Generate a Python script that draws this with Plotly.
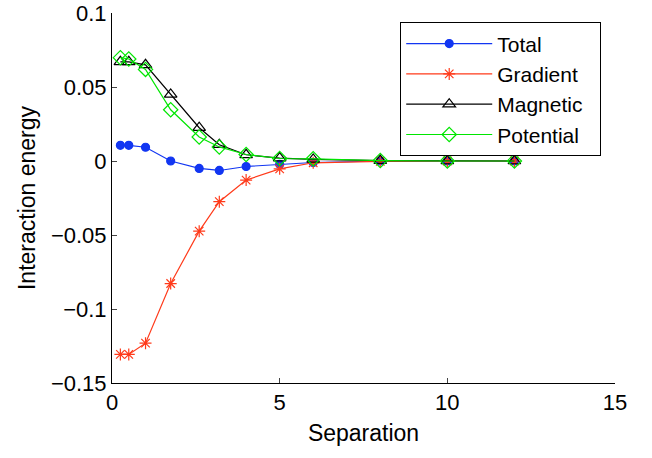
import plotly.graph_objects as go

separation = [0.25, 0.5, 1.0, 1.75, 2.6, 3.2, 4.0, 5.0, 6.0, 8.0, 10.0, 12.0]
total     = [0.0106, 0.0106, 0.0093, 0.0000, -0.0050, -0.0064, -0.0037, -0.0022, -0.0010, 0.0000, 0.0, 0.0]
gradient  = [-0.1307, -0.1307, -0.1231, -0.0828, -0.0474, -0.0275, -0.0129, -0.0053, -0.0012, -0.0002, 0.0, 0.0]
magnetic  = [0.0670, 0.0670, 0.0650, 0.0450, 0.0225, 0.0110, 0.0042, 0.0020, 0.0011, 0.0003, 0.0, 0.0]
potential = [0.0698, 0.0689, 0.0619, 0.0346, 0.0162, 0.0095, 0.0044, 0.0017, 0.0015, 0.0003, 0.0, 0.0]

y_ticks = [-0.15, -0.1, -0.05, 0, 0.05, 0.1]
y_ticktext = ["\u22120.15", "\u22120.1", "\u22120.05", "0", "0.05", "0.1"]
x_ticks = [0, 5, 10, 15]

series = [
    ("Total", total, "#1236f2", "circle", 8),
    ("Gradient", gradient, "#ff3a1a", "asterisk-open", 10),
    ("Magnetic", magnetic, "#000000", "triangle-up-open", 11),
    ("Potential", potential, "#00e600", "diamond-open", 11),
]

fig = go.Figure()
for name, vals, color, sym, size in series:
    fig.add_trace(go.Scatter(
        x=separation, y=vals, name=name + "\u00a0\u00a0", mode="lines+markers",
        line=dict(color=color, width=1.2),
        marker=dict(symbol=sym, size=size, color=color,
                    line=dict(color=color, width=1.2)),
    ))

font = "Liberation Sans, Arial, Helvetica, sans-serif"
fig.update_layout(
    width=652, height=458,
    margin=dict(l=112, r=37, t=13, b=75),
    plot_bgcolor="white", paper_bgcolor="white",
    font=dict(family=font, size=22, color="black"),
    showlegend=True,
    legend=dict(
        x=0.5726, y=0.975, xanchor="left", yanchor="top",
        bordercolor="black", borderwidth=1.2, bgcolor="white",
        font=dict(size=21, family=font), itemwidth=86,
        tracegroupgap=0,
    ),
)
fig.update_xaxes(
    range=[0, 15], tickvals=x_ticks, ticks="inside", ticklen=5,
    showline=True, linecolor="black", linewidth=1, showgrid=False, zeroline=False,
    title=dict(text="Separation", font=dict(size=23), standoff=10),
    tickfont=dict(size=22), automargin=False, ticklabeloverflow="allow",
)
fig.update_yaxes(
    range=[-0.15, 0.1], tickvals=y_ticks, ticktext=y_ticktext,
    ticks="inside", ticklen=5,
    showline=True, linecolor="black", linewidth=1, showgrid=False, zeroline=False,
    title=dict(text="Interaction energy", font=dict(size=23), standoff=8),
    tickfont=dict(size=22), automargin=False, ticklabeloverflow="allow",
)

fig.write_html("out.html")
